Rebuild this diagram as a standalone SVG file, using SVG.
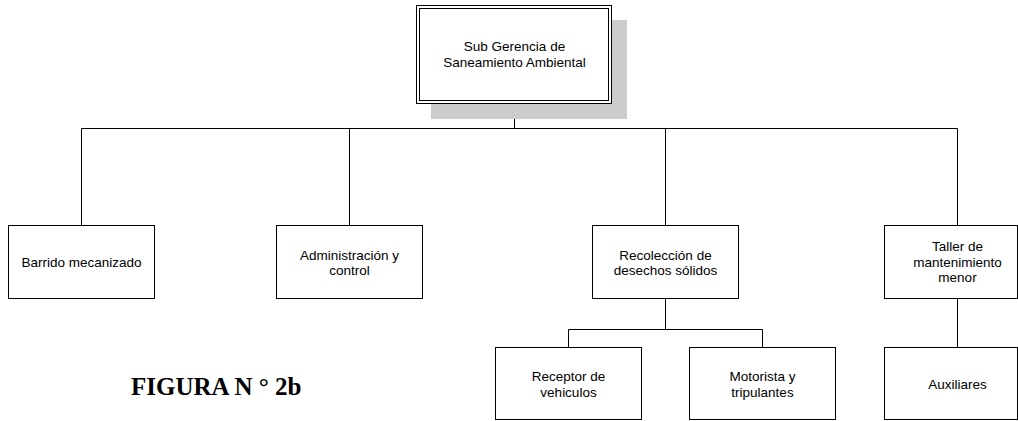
<svg xmlns="http://www.w3.org/2000/svg" width="1018" height="421" viewBox="0 0 1018 421">
<style>
.box{fill:#ffffff;stroke:#000000;stroke-width:1}
.lbl{font-family:"Liberation Sans",Arial,sans-serif;font-size:13.5px;fill:#000000;text-anchor:middle}
.conn{fill:none;stroke:#000000;stroke-width:1}
.fig{font-family:"Liberation Serif","Times New Roman",serif;font-size:25px;font-weight:bold;fill:#000000}
</style>
<rect width="1018" height="421" fill="#ffffff"/>
<g id="connectors">
<path class="conn" d="M514.5 103.5V128.5M81.5 128.5H957.5M81.5 128.5V225.5M349.5 128.5V225.5M665.5 128.5V225.5M957.5 128.5V225.5"/>
<path class="conn" d="M665.5 298.5V329.5M568.5 329.5H762.5M568.5 329.5V347.5M762.5 329.5V347.5"/>
<path class="conn" d="M957.5 298.5V347.5"/>
</g>
<g id="node-subgerencia">
<rect x="431" y="20" width="196" height="99" fill="#cccccc"/>
<rect class="box" x="416.5" y="5.5" width="195" height="98"/>
<rect class="box" x="419.5" y="8.5" width="189" height="92"/>
<text class="lbl" x="514.5" y="51">Sub Gerencia de</text>
<text class="lbl" x="514.5" y="66.7">Saneamiento Ambiental</text>
</g>
<g id="node-barrido">
<rect class="box" x="8.5" y="225.5" width="146" height="73"/>
<text class="lbl" x="81.5" y="266.7">Barrido mecanizado</text>
</g>
<g id="node-administracion">
<rect class="box" x="276.5" y="225.5" width="146" height="73"/>
<text class="lbl" x="349.5" y="259.5">Administración y</text>
<text class="lbl" x="349.5" y="275">control</text>
</g>
<g id="node-recoleccion">
<rect class="box" x="592.5" y="225.5" width="146" height="73"/>
<text class="lbl" x="665.5" y="259.5">Recolección de</text>
<text class="lbl" x="665.5" y="275">desechos sólidos</text>
</g>
<g id="node-taller">
<rect class="box" x="884.5" y="225.5" width="133" height="73"/>
<text class="lbl" x="957.5" y="251">Taller de</text>
<text class="lbl" x="957.5" y="266.7">mantenimiento</text>
<text class="lbl" x="957.5" y="282.3">menor</text>
</g>
<g id="node-receptor">
<rect class="box" x="495.5" y="347.5" width="146" height="72"/>
<text class="lbl" x="568.5" y="381">Receptor de</text>
<text class="lbl" x="568.5" y="396.5">vehiculos</text>
</g>
<g id="node-motorista">
<rect class="box" x="689.5" y="347.5" width="146" height="72"/>
<text class="lbl" x="762.5" y="381">Motorista y</text>
<text class="lbl" x="762.5" y="396.5">tripulantes</text>
</g>
<g id="node-auxiliares">
<rect class="box" x="884.5" y="347.5" width="133" height="72"/>
<text class="lbl" x="957.5" y="388.5">Auxiliares</text>
</g>
<text class="fig" x="131" y="395">FIGURA N ° 2b</text>
</svg>
